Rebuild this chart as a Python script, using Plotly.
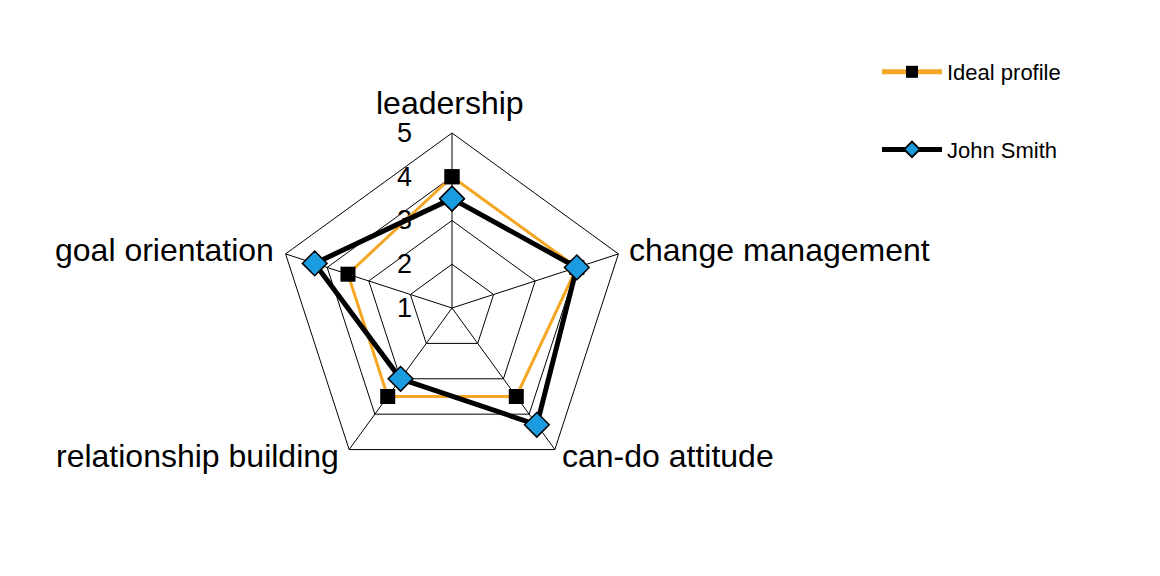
import plotly.graph_objects as go

# data
categories = ["leadership", "change management", "can-do attitude",
              "relationship building", "goal orientation"]
ideal_profile = [4, 4, 3.5, 3.5, 3.5]
john_smith = [3.5, 4, 4.3, 3, 4.3]
radial_ticks = [1, 2, 3, 4, 5]

W, H = 1160, 576
OFF = 8  # page body margin
cx, cy, R = 452 - OFF, 308 - OFF, 175

# label placement (page px): x, y, xanchor
label_pos = [
    (450, 103, "center"),
    (627, 250, "left"),
    (560, 456, "left"),
    (341, 456, "right"),
    (276, 250, "right"),
]


def closed(vals):
    return vals + vals[:1]


fig = go.Figure()
fig.add_trace(go.Scatterpolar(
    r=closed(ideal_profile), theta=closed(categories),
    name="Ideal profile", legendgroup="a", mode="lines+markers",
    line=dict(color="#F5A623", width=3),
    marker=dict(symbol="square", size=15, color="black"),
))
fig.add_trace(go.Scatterpolar(
    r=closed(john_smith), theta=closed(categories),
    name="John Smith", legendgroup="b", mode="lines+markers",
    line=dict(color="black", width=5),
    marker=dict(symbol="diamond", size=19, color="#1B9BE0",
                line=dict(color="black", width=1.5)),
))

for name, (px_, py_, anchor) in zip(categories, label_pos):
    fig.add_annotation(
        text=name, xref="paper", yref="paper",
        x=(px_ - OFF) / W, y=1 - (py_ - OFF) / H,
        xanchor=anchor, yanchor="middle", showarrow=False,
        font=dict(size=32),
    )

fig.update_layout(
    width=W, height=H,
    margin=dict(l=0, r=0, t=0, b=0),
    paper_bgcolor="white",
    font=dict(family="Liberation Sans, Arial, sans-serif", color="black"),
    polar=dict(
        domain=dict(x=[(cx - R) / W, (cx + R) / W],
                    y=[1 - (cy + R) / H, 1 - (cy - R) / H]),
        bgcolor="white",
        gridshape="linear",
        radialaxis=dict(
            range=[1, 5], tickvals=radial_ticks, angle=90, tickangle=90,
            side="counterclockwise", showline=False,
            gridcolor="black", gridwidth=1,
            ticks="outside", ticklen=30, tickcolor="rgba(0,0,0,0)",
            tickfont=dict(size=27), layer="below traces",
        ),
        angularaxis=dict(
            direction="clockwise", rotation=90,
            linecolor="black", linewidth=1,
            gridcolor="black", gridwidth=1,
            showticklabels=False, ticks="", layer="below traces",
        ),
    ),
    legend=dict(
        x=(877 - OFF) / W, y=1 - (51 - OFF) / H, xanchor="left", yanchor="top",
        font=dict(size=22), itemwidth=60, tracegroupgap=46,
        itemsizing="constant", bgcolor="rgba(0,0,0,0)",
    ),
)

fig.write_html("out.html")
